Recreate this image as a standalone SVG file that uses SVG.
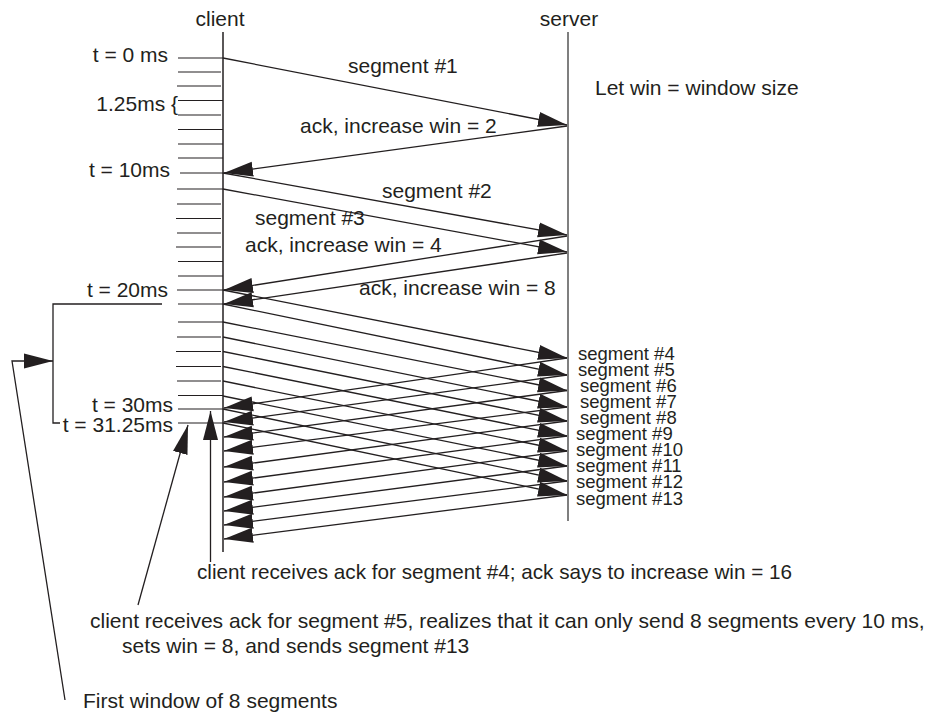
<svg xmlns="http://www.w3.org/2000/svg" width="938" height="715" viewBox="0 0 938 715">
<style>
.ln{stroke:#231f20;stroke-width:1.3;fill:none}
.tk{stroke:#231f20;stroke-width:1.2}
.a{marker-end:url(#ah)}
text{font-family:"Liberation Sans",Arial,Helvetica,sans-serif;fill:#231f20;font-size:21px}
.s{font-size:18.5px}
.b{font-size:20.7px}
.r{text-anchor:end}
.m{text-anchor:middle}
</style>
<defs>
<marker id="ah" markerUnits="userSpaceOnUse" markerWidth="31" markerHeight="17" refX="29" refY="8" orient="auto">
<path d="M0,0.5 L29,8 L0,15.5 z" fill="#231f20"/>
</marker>
</defs>
<rect width="938" height="715" fill="#fff"/>

<g id="client">
<text class="m" x="220" y="26">client</text>
<line x1="223" y1="32" x2="223" y2="552" stroke="#231f20" stroke-width="1.5"/>
<g class="tk">
<line x1="178" y1="58" x2="223" y2="58"/>
<line x1="178" y1="72" x2="221" y2="72"/>
<line x1="177" y1="86" x2="221" y2="86"/>
<line x1="178" y1="100.5" x2="223" y2="100.5"/>
<line x1="178" y1="115" x2="221" y2="115"/>
<line x1="178" y1="129.5" x2="223" y2="129.5"/>
<line x1="178" y1="144" x2="223" y2="144"/>
<line x1="178" y1="158" x2="223" y2="158"/>
<line x1="180" y1="173" x2="223" y2="173"/>
<line x1="177" y1="189" x2="223" y2="189"/>
<line x1="177" y1="204" x2="221" y2="204"/>
<line x1="176" y1="218.5" x2="221" y2="218.5"/>
<line x1="177" y1="233" x2="221" y2="233"/>
<line x1="176" y1="247" x2="221" y2="247"/>
<line x1="178" y1="261.5" x2="223" y2="261.5"/>
<line x1="178" y1="276" x2="223" y2="276"/>
<line x1="177" y1="290" x2="223" y2="290"/>
<line x1="178" y1="304" x2="223" y2="304"/>
<line x1="178" y1="322" x2="223" y2="322"/>
<line x1="177" y1="337" x2="221" y2="337"/>
<line x1="176" y1="351.5" x2="221" y2="351.5"/>
<line x1="176" y1="366.5" x2="221" y2="366.5"/>
<line x1="177" y1="381" x2="221" y2="381"/>
<line x1="178" y1="395.5" x2="223" y2="395.5"/>
<line x1="178" y1="409" x2="223" y2="409"/>
<line x1="178" y1="423" x2="223" y2="423"/>
</g>
<text class="r" x="168" y="62">t = 0 ms</text>
<text class="r" x="178" y="111">1.25ms {</text>
<text class="r" x="170" y="177">t = 10ms</text>
<text class="r" x="168" y="297">t = 20ms</text>
<text class="r" x="173" y="412">t = 30ms</text>
<text class="r" x="173" y="432">t = 31.25ms</text>
</g>

<g id="server">
<text class="m" x="569" y="26">server</text>
<line x1="568" y1="32" x2="568" y2="521" stroke="#555" stroke-width="1.5"/>
</g>

<g id="legend">
<text x="595" y="95">Let win = window size</text>
</g>

<g id="connectors">
<line class="ln a" x1="223" y1="58" x2="567" y2="125"/>
<line class="ln a" x1="567" y1="126" x2="224" y2="173"/>
<line class="ln a" x1="223" y1="173" x2="567" y2="235"/>
<line class="ln a" x1="223" y1="189" x2="567" y2="252"/>
<line class="ln a" x1="567" y1="236" x2="224" y2="290"/>
<line class="ln a" x1="567" y1="253" x2="224" y2="304"/>

<line class="ln a" x1="223" y1="290" x2="567" y2="358"/>
<line class="ln a" x1="223" y1="304" x2="567" y2="375"/>
<line class="ln a" x1="223" y1="322" x2="567" y2="390.5"/>
<line class="ln a" x1="223" y1="337" x2="567" y2="407"/>
<line class="ln a" x1="223" y1="351.5" x2="567" y2="421"/>
<line class="ln a" x1="223" y1="366.5" x2="567" y2="436"/>
<line class="ln a" x1="223" y1="381" x2="567" y2="451"/>
<line class="ln a" x1="223" y1="396" x2="567" y2="466"/>
<line class="ln a" x1="223" y1="409" x2="567" y2="481"/>
<line class="ln a" x1="223" y1="423" x2="567" y2="495"/>

<line class="ln a" x1="567" y1="358" x2="224" y2="408"/>
<line class="ln a" x1="567" y1="375" x2="224" y2="422"/>
<line class="ln a" x1="567" y1="390.5" x2="224" y2="437"/>
<line class="ln a" x1="567" y1="407" x2="224" y2="451"/>
<line class="ln a" x1="567" y1="421" x2="224" y2="467"/>
<line class="ln a" x1="567" y1="436" x2="224" y2="482"/>
<line class="ln a" x1="567" y1="451" x2="224" y2="497"/>
<line class="ln a" x1="567" y1="466" x2="224" y2="511"/>
<line class="ln a" x1="567" y1="481" x2="224" y2="525"/>
<line class="ln a" x1="567" y1="495" x2="224" y2="539"/>

<polyline class="ln" points="162,304 53,304 53,423 60,423"/>
<polyline class="ln a" points="65,700 12,361 53,361"/>
<line class="ln a" x1="210.5" y1="562" x2="210.5" y2="411"/>
<line class="ln a" x1="138" y1="605" x2="188" y2="425"/>
</g>

<g id="labels">
<text x="348" y="73">segment #1</text>
<text x="300" y="133">ack, increase win = 2</text>
<text x="382" y="198">segment #2</text>
<text x="255" y="225">segment #3</text>
<text x="245" y="252">ack, increase win = 4</text>
<text x="359" y="295">ack, increase win = 8</text>
<text class="s" x="578" y="359.6">segment #4</text>
<text class="s" x="578" y="375.7">segment #5</text>
<text class="s" x="580" y="391.8">segment #6</text>
<text class="s" x="580" y="407.9">segment #7</text>
<text class="s" x="580" y="424">segment #8</text>
<text class="s" x="576" y="440.1">segment #9</text>
<text class="s" x="576" y="456.2">segment #10</text>
<text class="s" x="576" y="472.3">segment #11</text>
<text class="s" x="576" y="488.4">segment #12</text>
<text class="s" x="576" y="504.5">segment #13</text>
</g>

<g id="notes">
<text class="b" x="197" y="579">client receives ack for segment #4; ack says to increase win = 16</text>
<text x="90" y="628">client receives ack for segment #5, realizes that it can only send 8 segments every 10 ms,</text>
<text x="122" y="653">sets win = 8, and sends segment #13</text>
<text x="83" y="708">First window of 8 segments</text>
</g>
</svg>
